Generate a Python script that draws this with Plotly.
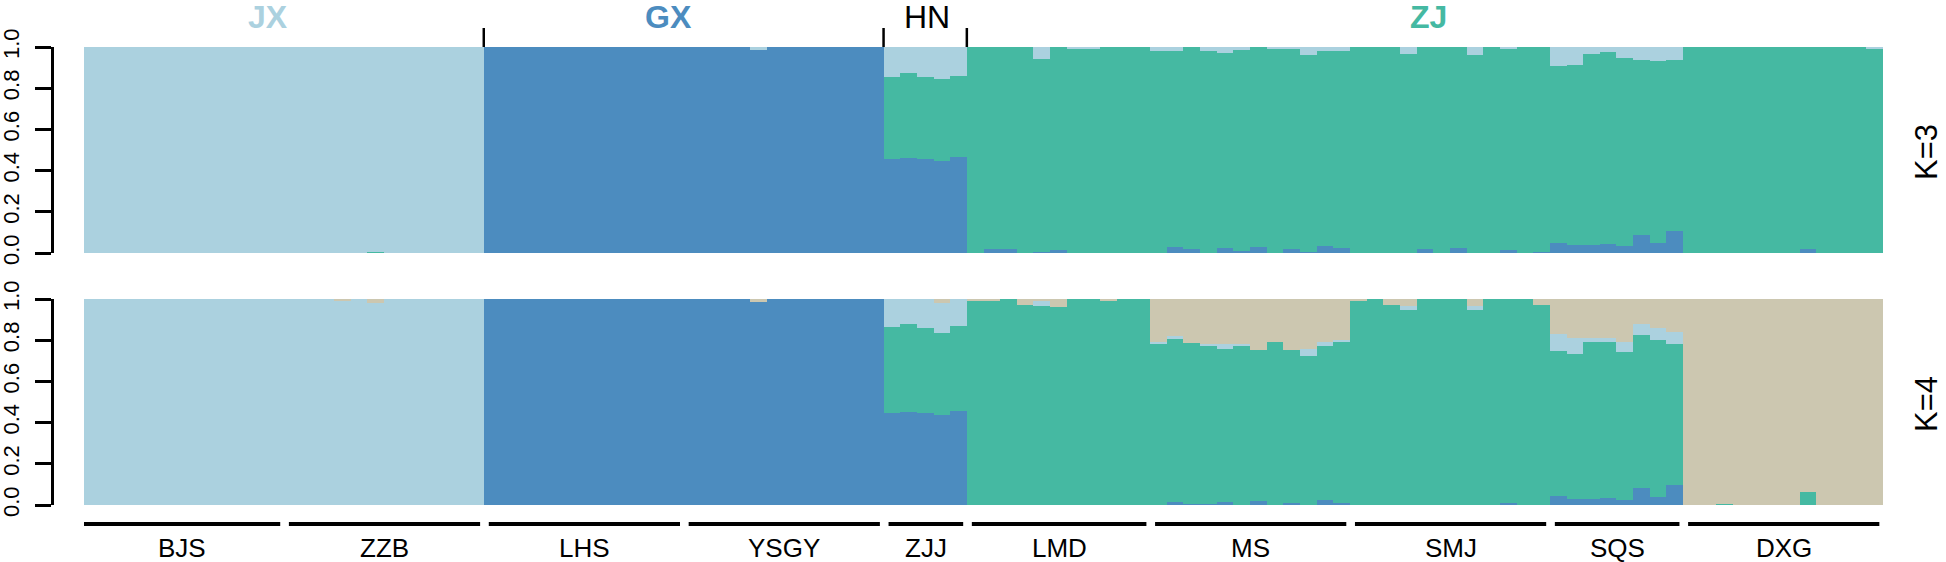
import plotly.graph_objects as go

# ---------------- data ----------------
populations = ["BJS", "ZZB", "LHS", "YSGY", "ZJJ", "LMD", "MS", "SMJ", "SQS", "DXG"]
pop_sizes = [12, 12, 12, 12, 5, 11, 12, 12, 8, 12]
regions = ["JX", "GX", "HN", "ZJ"]
region_label_pos = [11.05, 35.1, 50.6, 80.7]
region_colors = ["#ABD1DF", "#4C8CBF", "#000000", "#45B9A2"]
region_bold = [True, True, False, True]
region_boundaries = [24, 48, 53]
y_ticks = [0.0, 0.2, 0.4, 0.6, 0.8, 1.0]
y_tick_labels = ["0.0", "0.2", "0.4", "0.6", "0.8", "1.0"]
panel_labels = ["K=3", "K=4"]

# K=3 ancestry proportions (order: BJS..DXG, 108 individuals)
k3_blue = (
    [0, 0, 0, 0, 0, 0, 0, 0, 0, 0, 0, 0] +                       # BJS
    [0, 0, 0, 0, 0, 0, 0, 0, 0, 0, 0, 0] +                       # ZZB
    [1, 1, 1, 1, 1, 1, 1, 1, 1, 1, 1, 1] +                       # LHS
    [1, 1, 1, 1, 0.985, 1, 1, 1, 1, 1, 1, 1] +                   # YSGY
    [0.458, 0.461, 0.456, 0.447, 0.468] +                        # ZJJ
    [0, 0.019, 0.019, 0, 0.006, 0.013, 0, 0, 0, 0, 0] +          # LMD
    [0, 0.031, 0.019, 0, 0.026, 0.010, 0.031, 0, 0.021, 0.006, 0.036, 0.023] +  # MS
    [0, 0, 0, 0, 0.019, 0, 0.023, 0, 0, 0.013, 0, 0.005] +       # SMJ
    [0.049, 0.037, 0.039, 0.044, 0.036, 0.087, 0.049, 0.105] +   # SQS
    [0, 0, 0, 0, 0, 0, 0, 0.019, 0, 0, 0, 0]                     # DXG
)
k3_teal = (
    [0, 0, 0, 0, 0, 0, 0, 0, 0, 0, 0, 0] +
    [0, 0, 0, 0, 0, 0.006, 0, 0, 0, 0, 0, 0] +
    [0, 0, 0, 0, 0, 0, 0, 0, 0, 0, 0, 0] +
    [0, 0, 0, 0, 0, 0, 0, 0, 0, 0, 0, 0] +
    [0.396, 0.413, 0.397, 0.399, 0.390] +
    [1.0, 0.981, 0.981, 1.0, 0.936, 0.987, 0.989, 0.990, 1.0, 1.0, 1.0] +
    [0.979, 0.951, 0.981, 0.979, 0.945, 0.974, 0.969, 0.990, 0.974, 0.957, 0.945, 0.958] +
    [1.0, 1.0, 1.0, 0.968, 0.981, 1.0, 0.977, 0.960, 1.0, 0.979, 1.0, 0.995] +
    [0.860, 0.877, 0.929, 0.932, 0.912, 0.848, 0.885, 0.830] +
    [1.0, 1.0, 1.0, 1.0, 1.0, 1.0, 1.0, 0.981, 1.0, 1.0, 1.0, 0.992]
)
k3_lightblue = (
    [1, 1, 1, 1, 1, 1, 1, 1, 1, 1, 1, 1] +
    [1, 1, 1, 1, 1, 0.994, 1, 1, 1, 1, 1, 1] +
    [0, 0, 0, 0, 0, 0, 0, 0, 0, 0, 0, 0] +
    [0, 0, 0, 0, 0.015, 0, 0, 0, 0, 0, 0, 0] +
    [0.146, 0.126, 0.147, 0.154, 0.142] +
    [0, 0, 0, 0, 0.058, 0, 0.011, 0.010, 0, 0, 0] +
    [0.021, 0.018, 0, 0.021, 0.029, 0.016, 0, 0.010, 0.005, 0.037, 0.019, 0.019] +
    [0, 0, 0, 0.032, 0, 0, 0, 0.040, 0, 0.008, 0, 0] +
    [0.091, 0.086, 0.032, 0.024, 0.052, 0.065, 0.066, 0.065] +
    [0, 0, 0, 0, 0, 0, 0, 0, 0, 0, 0, 0.008]
)

# K=4 ancestry proportions
k4_blue = (
    [0, 0, 0, 0, 0, 0, 0, 0, 0, 0, 0, 0] +
    [0, 0, 0, 0, 0, 0, 0, 0, 0, 0, 0, 0] +
    [1, 1, 1, 1, 1, 1, 1, 1, 1, 1, 1, 1] +
    [1, 1, 1, 1, 0.984, 1, 1, 1, 1, 1, 1, 1] +
    [0.447, 0.451, 0.446, 0.439, 0.456] +
    [0, 0, 0, 0, 0, 0, 0, 0, 0, 0, 0] +
    [0, 0.016, 0.006, 0.003, 0.013, 0, 0.019, 0, 0.008, 0, 0.024, 0.008] +
    [0, 0, 0, 0, 0, 0, 0, 0, 0, 0.010, 0, 0] +
    [0.044, 0.029, 0.029, 0.034, 0.024, 0.081, 0.039, 0.097] +
    [0, 0, 0, 0, 0, 0, 0, 0, 0, 0, 0, 0]
)
k4_teal = (
    [0, 0, 0, 0, 0, 0, 0, 0, 0, 0, 0, 0] +
    [0, 0, 0, 0, 0, 0, 0, 0, 0, 0, 0, 0] +
    [0, 0, 0, 0, 0, 0, 0, 0, 0, 0, 0, 0] +
    [0, 0, 0, 0, 0, 0, 0, 0, 0, 0, 0, 0] +
    [0.417, 0.428, 0.415, 0.395, 0.412] +
    [0.994, 0.990, 1.0, 0.971, 0.967, 0.961, 1.0, 1.0, 0.989, 1.0, 1.0] +
    [0.785, 0.790, 0.781, 0.772, 0.743, 0.775, 0.735, 0.793, 0.746, 0.725, 0.750, 0.782] +
    [0.994, 1.0, 0.973, 0.945, 1.0, 1.0, 1.0, 0.945, 1.0, 0.990, 1.0, 0.971] +
    [0.702, 0.703, 0.764, 0.759, 0.721, 0.743, 0.764, 0.687] +
    [0, 0, 0.005, 0, 0, 0, 0, 0.063, 0, 0, 0, 0]
)
k4_lightblue = (
    [1, 1, 1, 1, 1, 1, 1, 1, 1, 1, 1, 1] +
    [1, 1, 1, 0.990, 1, 0.981, 1, 1, 1, 1, 1, 1] +
    [0, 0, 0, 0, 0, 0, 0, 0, 0, 0, 0, 0] +
    [0, 0, 0, 0, 0, 0, 0, 0, 0, 0, 0, 0] +
    [0.136, 0.121, 0.139, 0.147, 0.132] +
    [0, 0, 0, 0, 0.026, 0, 0, 0, 0, 0, 0] +
    [0.008, 0.016, 0, 0.008, 0.024, 0.008, 0, 0, 0, 0.034, 0.018, 0.012] +
    [0, 0, 0, 0.019, 0, 0, 0, 0.019, 0, 0, 0, 0] +
    [0.086, 0.081, 0.020, 0.016, 0.045, 0.056, 0.056, 0.056] +
    [0, 0, 0, 0, 0, 0, 0, 0, 0, 0, 0, 0]
)
k4_beige = (
    [0, 0, 0, 0, 0, 0, 0, 0, 0, 0, 0, 0] +
    [0, 0, 0, 0.010, 0, 0.019, 0, 0, 0, 0, 0, 0] +
    [0, 0, 0, 0, 0, 0, 0, 0, 0, 0, 0, 0] +
    [0, 0, 0, 0, 0.016, 0, 0, 0, 0, 0, 0, 0] +
    [0, 0, 0, 0.019, 0] +
    [0.006, 0.010, 0, 0.029, 0.007, 0.039, 0, 0, 0.011, 0, 0] +
    [0.207, 0.178, 0.213, 0.217, 0.220, 0.217, 0.246, 0.207, 0.246, 0.241, 0.208, 0.198] +
    [0.006, 0, 0.027, 0.036, 0, 0, 0, 0.036, 0, 0, 0, 0.029] +
    [0.168, 0.187, 0.187, 0.191, 0.210, 0.120, 0.141, 0.160] +
    [1.0, 1.0, 0.995, 1.0, 1.0, 1.0, 1.0, 0.937, 1.0, 1.0, 1.0, 1.0]
)

# ---------------- styling ----------------
COL_BLUE = "#4C8CBF"
COL_TEAL = "#45B9A2"
COL_LIGHT = "#ABD1DF"
COL_BEIGE = "#CCC7B0"
FONT = "Liberation Sans, Arial, Helvetica, sans-serif"

W, H = 1946, 562
PX_L, PX_R = 84, 1883          # plot horizontal extent (px)
PX_T, PX_B = 47, 505           # top of panel 1, bottom of panel 2 (px)
P1_BOT, P2_TOP = 253, 299
plot_h = PX_B - PX_T

def py(y_px):
    return (PX_B - y_px) / plot_h

n_ind = sum(pop_sizes)
xs = [i + 0.5 for i in range(n_ind)]

fig = go.Figure()

def add_panel(series, xa, ya):
    for vals, col in series:
        fig.add_trace(go.Bar(
            x=xs, y=vals, width=1.0, marker=dict(color=col, line=dict(width=0)),
            xaxis=xa, yaxis=ya, showlegend=False, hoverinfo="skip"))

add_panel([(k3_blue, COL_BLUE), (k3_teal, COL_TEAL), (k3_lightblue, COL_LIGHT)], "x", "y")
add_panel([(k4_blue, COL_BLUE), (k4_teal, COL_TEAL), (k4_lightblue, COL_LIGHT),
           (k4_beige, COL_BEIGE)], "x2", "y2")

xdom = [PX_L / W, PX_R / W]
yaxis_common = dict(
    range=[0, 1], anchor="free", position=51.7 / W, side="left",
    showgrid=False, zeroline=False, showline=True, linecolor="black", linewidth=2.5,
    ticks="outside", ticklen=16, tickwidth=2.5, tickcolor="black",
    tickvals=y_ticks, ticktext=y_tick_labels, tickangle=-90, ticklabelstandoff=7,
    tickfont=dict(family=FONT, size=22, color="black"), fixedrange=True,
)
xaxis_common = dict(domain=xdom, range=[0, n_ind], visible=False, fixedrange=True)

fig.update_layout(
    width=W, height=H,
    margin=dict(l=0, r=0, t=PX_T, b=H - PX_B),
    paper_bgcolor="white", plot_bgcolor="white",
    barmode="stack", bargap=0, bargroupgap=0,
    xaxis=dict(anchor="y", **xaxis_common),
    xaxis2=dict(anchor="y2", **xaxis_common),
    yaxis=dict(domain=[py(P1_BOT), 1.0], **yaxis_common),
    yaxis2=dict(domain=[0.0, py(P2_TOP)], **yaxis_common),
    font=dict(family=FONT, color="black"),
)

shapes = []
annotations = []

# region boundary ticks at top
for b in region_boundaries:
    shapes.append(dict(type="line", xref="x", yref="paper", x0=b, x1=b,
                       y0=py(47), y1=py(28), line=dict(color="black", width=2.5)))

# region labels
for name, xpos, col, bold in zip(regions, region_label_pos, region_colors, region_bold):
    annotations.append(dict(
        text=f"<b>{name}</b>" if bold else name, x=xpos, y=py(17.5), xref="x", yref="paper",
        showarrow=False, xanchor="center", yanchor="middle",
        font=dict(family=FONT, size=32, color=col)))

# population lines and labels
start = 0
for i, (name, n) in enumerate(zip(populations, pop_sizes)):
    x0 = start + (0 if i == 0 else 0.3)
    x1 = start + n - 0.22
    shapes.append(dict(type="line", xref="x", yref="paper", x0=x0, x1=x1,
                       y0=py(524), y1=py(524), line=dict(color="black", width=4)))
    annotations.append(dict(
        text=name, x=(x0 + x1) / 2, y=py(548), xref="x", yref="paper",
        showarrow=False, xanchor="center", yanchor="middle",
        font=dict(family=FONT, size=26, color="black")))
    start += n

# K labels
for lab, yc in zip(panel_labels, [152, 404]):
    annotations.append(dict(
        text=lab, x=1926 / W, y=py(yc), xref="paper", yref="paper", showarrow=False,
        xanchor="center", yanchor="middle", textangle=-90,
        font=dict(family=FONT, size=31, color="black")))

fig.update_layout(shapes=shapes, annotations=annotations)

fig.write_html(
    "out.html",
    config={"displayModeBar": False},
    post_script="document.body.style.margin='0';document.body.style.overflow='hidden';",
)
